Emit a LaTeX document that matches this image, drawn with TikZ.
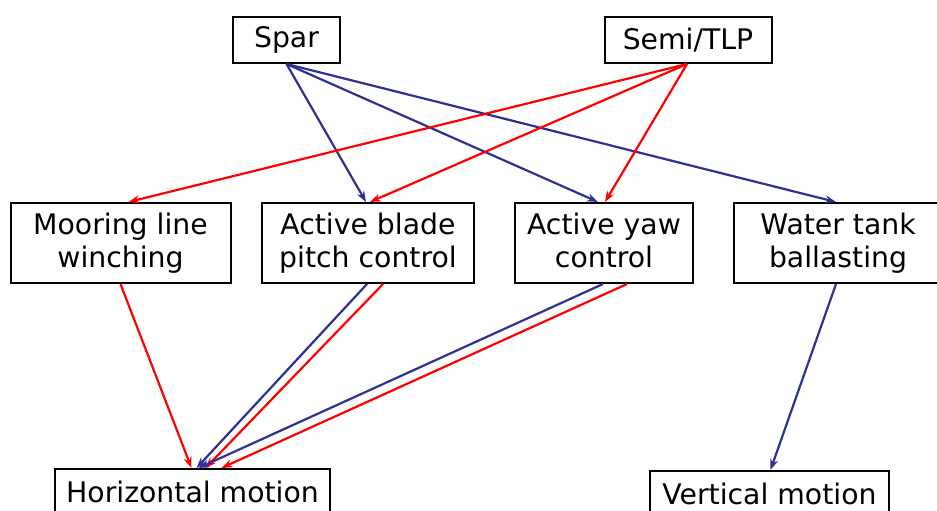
\documentclass[tikz,border=0pt]{standalone}
\usepackage{fontspec}
\setmainfont{DejaVu Sans}
\usetikzlibrary{arrows.meta}
\definecolor{sparblue}{RGB}{46,49,146}
\definecolor{semired}{RGB}{255,0,0}
\begin{document}
\begin{tikzpicture}[x=1pt,y=-1pt,
  box/.style={draw=black,line width=2pt,align=center,inner sep=0pt,
    font=\fontsize{28.3}{32.5}\selectfont},
  bl/.style={draw=sparblue,line width=2.2pt,-{Stealth[length=11pt,width=8pt]}},
  rd/.style={draw=semired,line width=2.2pt,-{Stealth[length=11pt,width=8pt]}}]
\clip (0,0) rectangle (937,511);
\useasboundingbox (0,0) rectangle (937,511);
\node[box,minimum width=107pt,minimum height=46pt] (spar) at (286.5,40) {Spar};
\node[box,minimum width=167pt,minimum height=46pt] (semi) at (688,40) {Semi/TLP};
\node[box,minimum width=220pt,minimum height=80pt] (moor) at (120.5,243) {Mooring line\\winching};
\node[box,minimum width=212pt,minimum height=80pt] (blade) at (368,243) {Active blade\\pitch control};
\node[box,minimum width=178pt,minimum height=80pt] (yaw) at (604,243) {Active yaw\\control\vphantom{g}};
\node[box,minimum width=208pt,minimum height=80pt] (tank) at (838,243) {Water tank\\ballasting};
\node[box,minimum width=275pt,minimum height=46pt] (horiz) at (192.5,492) {Horizontal motion};
\node[box,minimum width=239pt,minimum height=46pt] (vert) at (769.5,494) {Vertical motion};
% Spar arrows
\draw[bl] (spar.south) -- ([xshift=-2pt]blade.north);
\draw[bl] (spar.south) -- ([xshift=-6pt]yaw.north);
\draw[bl] (spar.south) -- ([xshift=-2pt]tank.north);
% Semi/TLP arrows
\draw[rd] ([xshift=-1pt]semi.south) -- ([xshift=8pt]moor.north);
\draw[rd] ([xshift=-1pt]semi.south) -- ([xshift=2pt]blade.north);
\draw[rd] ([xshift=-1pt]semi.south) -- ([xshift=1pt]yaw.north);
% to horizontal motion
\draw[rd] (moor.south) -- ([xshift=-1pt]horiz.north);
\draw[bl] ([xshift=-1pt]blade.south) -- ([xshift=4pt]horiz.north);
\draw[rd] ([xshift=15pt]blade.south) -- ([xshift=13pt]horiz.north);
\draw[bl] ([xshift=-1pt]yaw.south) -- ([xshift=6pt]horiz.north);
\draw[rd] ([xshift=23pt]yaw.south) -- ([xshift=29pt]horiz.north);
% to vertical motion
\draw[bl] ([xshift=-2pt]tank.south) -- ([xshift=1pt]vert.north);
\end{tikzpicture}
\end{document}
